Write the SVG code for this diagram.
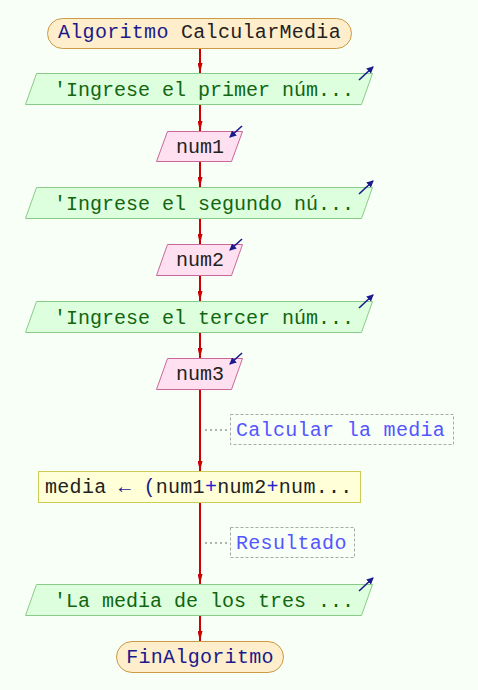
<svg xmlns="http://www.w3.org/2000/svg" width="478" height="690" viewBox="0 0 478 690">
  <defs>
    <marker id="flow-head" viewBox="0 0 10 5" refX="10" refY="2.5" markerWidth="10" markerHeight="5" markerUnits="userSpaceOnUse" orient="auto">
      <path d="M0,0 L10,2.5 L0,5 Z" fill="#cc0000"/>
    </marker>
    <marker id="io-head" viewBox="0 0 7 7" refX="6" refY="3.5" markerWidth="7" markerHeight="7" markerUnits="userSpaceOnUse" orient="auto">
      <path d="M0,0 L7,3.5 L0,7 Z" fill="#1a1a8c"/>
    </marker>
    <style>
      .txt { font-family: "Liberation Mono", "DejaVu Sans Mono", monospace; font-size: 20px; }
      .wide { letter-spacing: 0.3px; }
      .term { fill: #ffeecc; stroke: #cc9944; stroke-width: 1; }
      .out { fill: #ddffdd; stroke: #88cc88; stroke-width: 1; }
      .in { fill: #ffe0f0; stroke: #cc6699; stroke-width: 1; }
      .proc { fill: #ffffd8; stroke: #cccc55; stroke-width: 1; }
      .note { fill: none; stroke: #aaaaaa; stroke-width: 1; stroke-dasharray: 3 2; }
      .kw { fill: #1a1a8c; }
      .id { fill: #222222; }
      .str { fill: #116611; }
      .op { fill: #2222cc; }
      .cmt { fill: #5555ff; }
      .flow { stroke: #cc0000; stroke-width: 2; fill: none; marker-end: url(#flow-head); }
      .link { stroke: #999999; stroke-width: 1.5; stroke-dasharray: 2 3; fill: none; }
      .io { stroke: #1a1a8c; stroke-width: 1.6; fill: none; marker-end: url(#io-head); }
    </style>
  </defs>

  <rect width="478" height="690" fill="#f7fff7"/>

  <g id="connectors">
    <line class="flow" x1="200" y1="48" x2="200" y2="73"/>
    <line class="flow" x1="200" y1="104" x2="200" y2="131"/>
    <line class="flow" x1="200" y1="161" x2="200" y2="187"/>
    <line class="flow" x1="200" y1="218" x2="200" y2="244"/>
    <line class="flow" x1="200" y1="275" x2="200" y2="301"/>
    <line class="flow" x1="200" y1="332" x2="200" y2="358"/>
    <line class="flow" x1="200" y1="389" x2="200" y2="471"/>
    <line class="flow" x1="200" y1="502" x2="200" y2="584"/>
    <line class="flow" x1="200" y1="615" x2="200" y2="641"/>
    <line class="link" x1="205" y1="430" x2="229" y2="430"/>
    <line class="link" x1="205" y1="543" x2="229" y2="543"/>
  </g>

  <g id="start">
    <rect class="term" x="47.5" y="18.5" width="304" height="30" rx="15"/>
    <text class="txt wide" x="58" y="38"><tspan class="kw">Algoritmo</tspan><tspan class="id"> CalcularMedia</tspan></text>
  </g>

  <g id="out1">
    <polygon class="out" points="36.5,73.5 372.5,73.5 361.5,104.5 25.5,104.5"/>
    <text class="txt str" x="54" y="96">'Ingrese el primer núm...</text>
    <line class="io" x1="359" y1="80" x2="373" y2="67"/>
  </g>

  <g id="in1">
    <polygon class="in" points="167.5,131.5 242.5,131.5 231.5,161.5 156.5,161.5"/>
    <text class="txt id" x="200" y="153" text-anchor="middle">num1</text>
    <line class="io" x1="242" y1="126" x2="230" y2="137"/>
  </g>

  <g id="out2">
    <polygon class="out" points="36.5,187.5 372.5,187.5 361.5,218.5 25.5,218.5"/>
    <text class="txt str" x="54" y="210">'Ingrese el segundo nú...</text>
    <line class="io" x1="359" y1="194" x2="373" y2="181"/>
  </g>

  <g id="in2">
    <polygon class="in" points="167.5,244.5 242.5,244.5 231.5,275.5 156.5,275.5"/>
    <text class="txt id" x="200" y="266" text-anchor="middle">num2</text>
    <line class="io" x1="242" y1="239" x2="230" y2="250"/>
  </g>

  <g id="out3">
    <polygon class="out" points="36.5,301.5 372.5,301.5 361.5,332.5 25.5,332.5"/>
    <text class="txt str" x="54" y="324">'Ingrese el tercer núm...</text>
    <line class="io" x1="359" y1="308" x2="373" y2="295"/>
  </g>

  <g id="in3">
    <polygon class="in" points="167.5,358.5 242.5,358.5 231.5,389.5 156.5,389.5"/>
    <text class="txt id" x="200" y="380" text-anchor="middle">num3</text>
    <line class="io" x1="242" y1="353" x2="230" y2="364"/>
  </g>

  <g id="note1">
    <rect class="note" x="230.5" y="414.5" width="223" height="30"/>
    <text class="txt cmt wide" x="236" y="436">Calcular la media</text>
  </g>

  <g id="calc">
    <rect class="proc" x="38.5" y="471.5" width="322" height="31"/>
    <text class="txt wide" x="45" y="493"><tspan class="id">media </tspan><tspan class="kw">← (</tspan><tspan class="id">num1</tspan><tspan class="op">+</tspan><tspan class="id">num2</tspan><tspan class="op">+</tspan><tspan class="id">num...</tspan></text>
  </g>

  <g id="note2">
    <rect class="note" x="230.5" y="527.5" width="124" height="30"/>
    <text class="txt cmt wide" x="236" y="549">Resultado</text>
  </g>

  <g id="out4">
    <polygon class="out" points="36.5,584.5 372.5,584.5 361.5,615.5 25.5,615.5"/>
    <text class="txt str" x="54" y="607">'La media de los tres ...</text>
    <line class="io" x1="359" y1="591" x2="373" y2="578"/>
  </g>

  <g id="end">
    <rect class="term" x="116.5" y="641.5" width="167" height="31" rx="15.5"/>
    <text class="txt kw wide" x="200" y="663" text-anchor="middle">FinAlgoritmo</text>
  </g>
</svg>
